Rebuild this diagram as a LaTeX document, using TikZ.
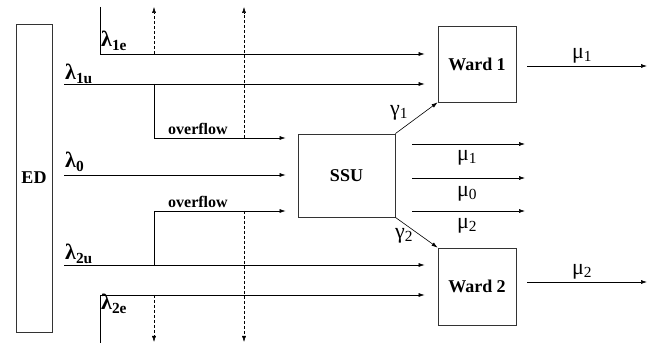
\documentclass[tikz,border=0pt]{standalone}
\usepackage{fontspec}
\setmainfont{Liberation Serif}
\usetikzlibrary{arrows.meta,positioning}
\newcommand{\rate}[2]{#1\textsubscript{#2}}
\tikzset{
  unit/.style={draw=black!80, line width=0.8pt, inner sep=0pt, font=\fontsize{18}{20}\selectfont\bfseries},
  flow/.style={line width=0.6pt, -{Latex[length=6pt,width=4pt]}},
  pipe/.style={line width=0.6pt},
  spill/.style={line width=0.5pt, dash pattern=on 3pt off 2pt, -{Latex[length=6pt,width=4pt]}},
  greek/.style={inner sep=0pt, font=\fontsize{22}{24}\selectfont},
  arrival/.style={inner sep=0pt, anchor=base west, font=\fontsize{22}{24}\selectfont\bfseries},
  note/.style={inner sep=0pt, font=\fontsize{16}{18}\selectfont\bfseries}
}
\begin{document}
\begin{tikzpicture}[x=1pt,y=-1pt]
\useasboundingbox (0,0) rectangle (653,344);
\node[unit, minimum width=36pt, minimum height=308pt] (ed) at (34,178){ED};
\node[unit, minimum width=97pt, minimum height=83pt] (ssu) at (346.5,175.5){SSU};
\node[unit, minimum width=78pt, minimum height=76pt] (ward1) at (477,64){Ward 1};
\node[unit, minimum width=78pt, minimum height=77pt] (ward2) at (477,286.5){Ward 2};
% arrivals for ward 1
\coordinate (l1etop) at (100,7);
\coordinate (l1ebend) at (100,54);
\coordinate (l1u) at (64,84);
\coordinate (of1) at (154,84);
\coordinate (of1bend) at (154,138);
\draw[flow, shorten >=13pt] (l1etop) -- (l1ebend) -- (l1ebend -| ward1.west);
\draw[flow, shorten >=13pt] (l1u) -- (l1u -| ward1.west);
\draw[pipe] (of1) -- (of1bend);
\draw[flow, shorten >=12pt] (of1bend) -- (of1bend -| ssu.west);
\node[arrival] (lam1e) at (101,47){\rate{λ}{1e}};
\node[arrival] (lam1u) at (65,80){\rate{λ}{1u}};
\node[note, anchor=base west] (ovf1) at (168,135){overflow};
% direct arrivals to ssu
\coordinate (l0) at (64,175);
\draw[flow, shorten >=12pt] (l0) -- (l0 -| ssu.west);
\node[arrival] (lam0) at (65,168){\rate{λ}{0}};
% arrivals for ward 2
\coordinate (l2etop) at (100,343);
\coordinate (l2ebend) at (100,295);
\coordinate (l2u) at (64,265);
\coordinate (of2) at (154,265);
\coordinate (of2bend) at (154,211);
\draw[flow, shorten >=13pt] (l2etop) -- (l2ebend) -- (l2ebend -| ward2.west);
\draw[flow, shorten >=13pt] (l2u) -- (l2u -| ward2.west);
\draw[pipe] (of2) -- (of2bend);
\draw[flow, shorten >=12pt] (of2bend) -- (of2bend -| ssu.west);
\node[arrival] (lam2u) at (65,260){\rate{λ}{2u}};
\node[arrival] (lam2e) at (101,310){\rate{λ}{2e}};
\node[note, anchor=base west] (ovf2) at (168,208){overflow};
% lost patients
\coordinate (lost1) at (154,7);
\coordinate (lost2) at (244,7);
\coordinate (lost3) at (154,342);
\coordinate (lost4) at (244,342);
\draw[spill] (l1ebend -| lost1) -- (lost1);
\draw[spill] (of1bend -| lost2) -- (lost2);
\draw[spill] (l2ebend -| lost3) -- (lost3);
\draw[spill] (of2bend -| lost4) -- (lost4);
% transfers
\draw[flow] (ssu.north east) -- (ward1.south west);
\draw[flow] (ssu.south east) -- (ward2.north west);
\node[greek] (gam1) at (399,113){\rate{γ}{1}};
\node[greek] (gam2) at (404,236){\rate{γ}{2}};
% departures
\coordinate (out1) at (647,66);
\coordinate (out2) at (647,282);
\coordinate (sout1) at (525,144);
\coordinate (sout0) at (525,178);
\coordinate (sout2) at (525,211);
\draw[flow, shorten <=11pt] (out1 -| ward1.east) -- (out1);
\draw[flow, shorten <=11pt] (out2 -| ward2.east) -- (out2);
\draw[flow, shorten <=17pt] (sout1 -| ssu.east) -- (sout1);
\draw[flow, shorten <=17pt] (sout0 -| ssu.east) -- (sout0);
\draw[flow, shorten <=17pt] (sout2 -| ssu.east) -- (sout2);
\node[greek] (mu1) at (582,56){\rate{μ}{1}};
\node[greek] (mu2) at (582,272){\rate{μ}{2}};
\node[greek] (smu1) at (467,158){\rate{μ}{1}};
\node[greek] (smu0) at (467,194){\rate{μ}{0}};
\node[greek] (smu2) at (467,226){\rate{μ}{2}};
\end{tikzpicture}
\end{document}
